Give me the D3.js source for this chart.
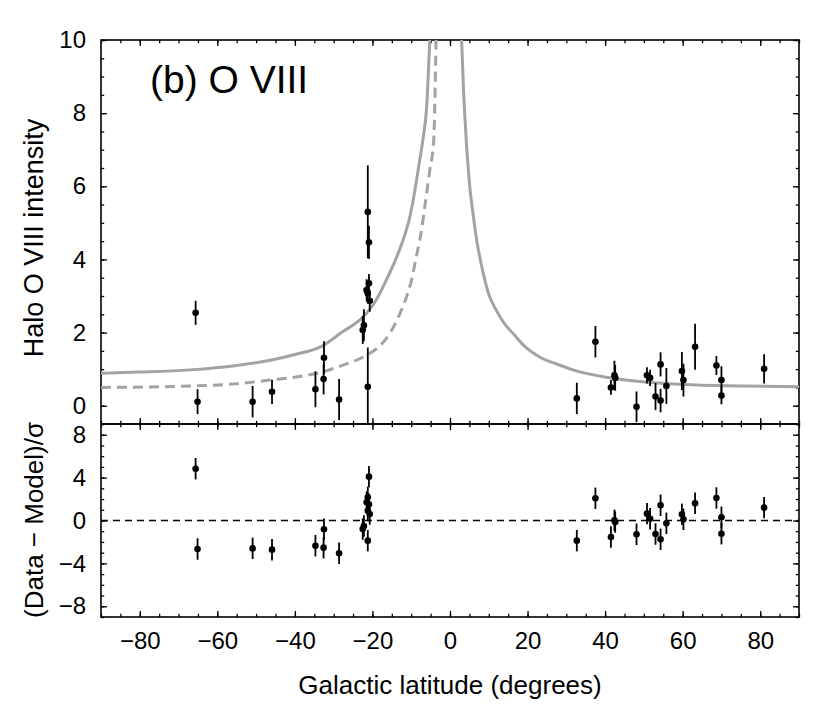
<!DOCTYPE html>
<html>
<head>
<meta charset="utf-8">
<script src="https://cdn.jsdelivr.net/npm/d3@7"></script>
<style>
  html, body { margin: 0; padding: 0; background: #fff; }
  svg { display: block; }
  text { font-family: "Liberation Sans", Arial, Helvetica, sans-serif; fill: #000; }
</style>
</head>
<body>
<svg id="chart" width="830" height="712"></svg>
<script>
// ---------------- data ----------------
const lat = [-65.6, -65.1, -50.9, -45.9, -34.7, -32.5, -32.6, -28.6, -22.5, -22.2,
             -21.2, -21.2, -20.9, -21.5, -20.7, -20.9, -21.2,
             32.7, 37.5, 41.5, 42.4, 42.6, 48.1, 50.8, 51.6, 53.0, 54.3,
             54.3, 55.8, 59.8, 60.2, 63.2, 68.7, 70.0, 70.0, 81.0];
const intensity = [2.54, 0.11, 0.11, 0.38, 0.45, 1.31, 0.73, 0.17, 2.07, 2.20,
                   0.52, 5.30, 4.47, 3.16, 2.87, 3.35, 3.07,
                   0.20, 1.75, 0.50, 0.83, 0.76, -0.03, 0.83, 0.76, 0.25, 1.13,
                   0.14, 0.54, 0.95, 0.70, 1.61, 1.10, 0.70, 0.28, 1.01];
const intensityErr = [0.33, 0.34, 0.43, 0.33, 0.49, 0.45, 0.42, 0.56, 0.38, 0.44,
                      1.07, 1.27, 0.45, 0.30, 0.30, 0.25, 0.28,
                      0.43, 0.43, 0.20, 0.40, 0.35, 0.42, 0.22, 0.22, 0.37, 0.33,
                      0.32, 0.49, 0.52, 0.45, 0.63, 0.26, 0.38, 0.24, 0.40];
const residual = [4.83, -2.66, -2.60, -2.72, -2.35, -0.82, -2.53, -3.06, -0.80, -0.51,
                  -1.88, 2.16, 4.09, 1.70, 0.61, 1.51, 0.92,
                  -1.88, 2.07, -1.54, 0.02, -0.14, -1.29, 0.64, 0.17, -1.26, 1.42,
                  -1.75, -0.26, 0.58, 0.11, 1.60, 2.10, 0.30, -1.23, 1.20];
const residualErr = 1.0;

// model curves: [latitude, intensity]
const modelSolidSouth = [[-90,0.89],[-80,0.92],[-67,0.98],[-55,1.10],[-46,1.25],[-40,1.40],
  [-33,1.63],[-28,2.00],[-22.4,2.43],[-19,2.90],[-16.4,3.44],[-14,4.00],[-12.1,4.53],
  [-10.5,5.10],[-9.5,5.62],[-7.8,6.72],[-7.0,7.26],[-6.0,8.20],[-5.2,10.0],[-4.9,10.6]];
const modelSolidNorth = [[2.8,10.6],[3.0,10.0],[3.5,8.6],[4,7.6],[5,6.1],[6,5.2],[7,4.45],
  [8,3.9],[10,3.05],[12,2.6],[14,2.25],[16.4,1.96],[19,1.65],[23,1.34],[28,1.12],
  [31.7,0.98],[40.3,0.78],[49,0.66],[60,0.58],[75,0.54],[90,0.52]];
const modelDashedSouth = [[-90,0.50],[-67,0.54],[-55,0.60],[-46.5,0.70],[-40,0.78],[-32.7,0.93],
  [-27.6,1.11],[-24,1.25],[-20.7,1.43],[-18,1.65],[-15.5,1.98],[-13,2.50],[-11.2,2.98],
  [-10,3.40],[-8.7,4.07],[-7.5,4.70],[-6.5,5.44],[-5.2,6.45],[-4.2,7.26],[-3.6,10.0],[-3.5,10.6]];

const xMajor = [-80, -60, -40, -20, 0, 20, 40, 60, 80];
const topMajor = [0, 2, 4, 6, 8, 10];
const botMajor = [-8, -4, 0, 4, 8];

// ---------------- layout ----------------
const L = 101, R = 799, T = 40, MID = 424, B = 617;
const svg = d3.select("#chart");
const x = d3.scaleLinear().domain([-90, 90]).range([L, R]);
const yTop = d3.scaleLinear().domain([-0.5, 10]).range([MID, T]);
const yBot = d3.scaleLinear().domain([-9, 9]).range([B, MID]);

const fmt = d => (d < 0 ? "\u2212" + Math.abs(d) : String(d));
const MAJ = 6, MIN = 3.2, FS = 24;

function minorVals(lo, hi, step) {
  const out = [];
  for (let v = lo; v <= hi + 1e-9; v += step) out.push(+v.toFixed(6));
  return out;
}

function panel(y, top, bottom, major, minorStep, showX, id) {
  const g = svg.append("g");
  svg.append("clipPath").attr("id", id).append("rect")
    .attr("x", L).attr("y", top).attr("width", R - L).attr("height", bottom - top);
  const xMinor = minorVals(-90, 90, 5);
  const yMinor = minorVals(y.domain()[0], y.domain()[1], minorStep);
  const axes = [
    [d3.axisBottom(x), bottom, true],
    [d3.axisTop(x), top, false]
  ];
  axes.forEach(([ax, ty, lab]) => {
    g.append("g").attr("transform", `translate(0,${ty})`)
      .call(ax.tickValues(xMinor).tickSize(-MIN).tickFormat(""));
    g.append("g").attr("transform", `translate(0,${ty})`)
      .call(ax.tickValues(xMajor).tickSize(-MAJ).tickPadding(15)
        .tickFormat(lab && showX ? fmt : ""));
  });
  const yaxes = [[d3.axisLeft(y), L, true], [d3.axisRight(y), R, false]];
  yaxes.forEach(([ax, tx, lab]) => {
    g.append("g").attr("transform", `translate(${tx},0)`)
      .call(ax.tickValues(yMinor).tickSize(-MIN).tickFormat(""));
    g.append("g").attr("transform", `translate(${tx},0)`)
      .call(ax.tickValues(major).tickSize(-MAJ).tickPadding(15).tickFormat(lab ? fmt : ""));
  });
  g.selectAll(".domain").remove();
  g.selectAll(".tick line").attr("stroke", "#000").attr("stroke-width", 1.3);
  g.selectAll(".tick text").style("font-size", FS + "px")
    .style("font-family", '"Liberation Sans", Arial, sans-serif');
  g.append("rect").attr("x", L).attr("y", top).attr("width", R - L).attr("height", bottom - top)
    .attr("fill", "none").attr("stroke", "#000").attr("stroke-width", 1.6);
  return g;
}

// ---------------- top panel ----------------
panel(yTop, T, MID, topMajor, 0.5, false, "clipTop");
const plotTop = svg.append("g").attr("clip-path", "url(#clipTop)");
const line = d3.line().x(d => x(d[0])).y(d => yTop(d[1])).curve(d3.curveMonotoneX);
const gray = "#a3a3a3";
plotTop.append("path").attr("d", line(modelDashedSouth)).attr("fill", "none")
  .attr("stroke", gray).attr("stroke-width", 3).attr("stroke-dasharray", "10,6");
[modelSolidSouth, modelSolidNorth].forEach(c => {
  plotTop.append("path").attr("d", line(c)).attr("fill", "none")
    .attr("stroke", gray).attr("stroke-width", 3);
});
const idx = d3.range(lat.length);
plotTop.selectAll("line.err").data(idx).join("line")
  .attr("x1", i => x(lat[i])).attr("x2", i => x(lat[i]))
  .attr("y1", i => yTop(intensity[i] - intensityErr[i]))
  .attr("y2", i => yTop(intensity[i] + intensityErr[i]))
  .attr("stroke", "#000").attr("stroke-width", 1.8);
plotTop.selectAll("circle").data(idx).join("circle")
  .attr("cx", i => x(lat[i])).attr("cy", i => yTop(intensity[i])).attr("r", 3.3)
  .attr("fill", "#000");

svg.append("text").attr("x", 150).attr("y", 93).style("font-size", "39px").text("(b) O VIII");

// ---------------- bottom panel ----------------
panel(yBot, MID, B, botMajor, 1, true, "clipBot");
const plotBot = svg.append("g").attr("clip-path", "url(#clipBot)");
plotBot.append("line").attr("x1", x(-90)).attr("x2", x(90))
  .attr("y1", yBot(0)).attr("y2", yBot(0))
  .attr("stroke", "#000").attr("stroke-width", 1.4).attr("stroke-dasharray", "7,5");
plotBot.selectAll("line.err").data(idx).join("line")
  .attr("x1", i => x(lat[i])).attr("x2", i => x(lat[i]))
  .attr("y1", i => yBot(residual[i] - residualErr))
  .attr("y2", i => yBot(residual[i] + residualErr))
  .attr("stroke", "#000").attr("stroke-width", 1.8);
plotBot.selectAll("circle").data(idx).join("circle")
  .attr("cx", i => x(lat[i])).attr("cy", i => yBot(residual[i])).attr("r", 3.3)
  .attr("fill", "#000");

// ---------------- axis titles ----------------
svg.append("text").attr("text-anchor", "middle")
  .attr("transform", `translate(43,238) rotate(-90)`)
  .style("font-size", "27px").text("Halo O VIII intensity");
svg.append("text").attr("text-anchor", "middle")
  .attr("transform", `translate(43,520) rotate(-90)`)
  .style("font-size", "26px").text("(Data \u2212 Model)/\u03c3");
svg.append("text").attr("text-anchor", "middle").attr("x", 450).attr("y", 694)
  .style("font-size", "26px").text("Galactic latitude (degrees)");
</script>
</body>
</html>
